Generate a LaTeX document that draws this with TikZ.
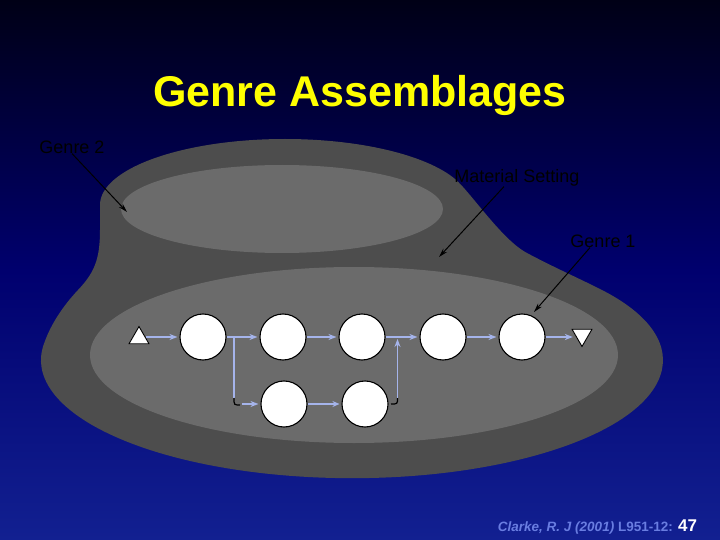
\documentclass[tikz,border=0pt]{standalone}
\usepackage{fontspec}
\setmainfont{Liberation Sans}
\usetikzlibrary{arrows.meta,shapes.geometric,calc}
\definecolor{bgtop}{RGB}{0,0,22}
\definecolor{bgmid}{RGB}{0,0,110}
\definecolor{bgbot}{RGB}{18,32,145}
\definecolor{shapedark}{RGB}{77,77,77}
\definecolor{shapelight}{RGB}{107,107,107}
\definecolor{flowblue}{RGB}{165,180,235}
\definecolor{labelink}{RGB}{0,0,0}
\definecolor{citeblue}{RGB}{105,125,225}
\definecolor{titleyellow}{RGB}{255,255,0}
\tikzset{
  circ/.style={circle, draw=black, line width=1.1pt, fill=white, minimum size=46pt, inner sep=0pt},
  tri/.style={regular polygon, regular polygon sides=3, draw=black, line width=0.9pt, fill=white, minimum size=23pt, inner sep=0pt},
  flow/.style={draw=flowblue, line width=2.2pt, -{Stealth[length=8pt,width=6pt]}, shorten >=2pt},
  thinflow/.style={draw=flowblue, line width=1.1pt},
  thinarrow/.style={draw=flowblue, line width=1.1pt, -{Stealth[length=7pt,width=6pt]}, shorten >=2pt},
  hook/.style={draw=black, line width=1.2pt},
  lab/.style={text=labelink, font=\fontsize{18}{20}\selectfont, inner sep=0pt},
  callout/.style={draw=black, line width=1pt, -{Stealth[length=9pt,width=5pt]}}
}
\begin{document}
\begin{tikzpicture}[x=1pt,y=-1pt]
\useasboundingbox (0,0) rectangle (720,540);
\shade[top color=bgtop, bottom color=bgbot, middle color=bgmid] (0,0) rectangle (720,540);

% title
\node[text=titleyellow, font=\fontsize{43}{50}\selectfont\bfseries, anchor=base, inner sep=0pt] (title) at (360,107) {Genre Assemblages};

% setting shape
\fill[shapedark] (100,205)
  arc[start angle=180, end angle=336.8, x radius=185, y radius=66]
  .. controls (470,191.5) and (502,240) .. (527,253)
  .. controls (552,266.4) and (575,276.5) .. (600,289)
  arc[start angle=322.9, end angle=547.9, x radius=311, y radius=118]
  .. controls (50,326) and (62,307) .. (78,290)
  .. controls (94,273) and (100,260) .. (100,230)
  -- cycle;
\fill[shapelight] (282,209) ellipse [x radius=161, y radius=44];
\fill[shapelight] (354,355) ellipse [x radius=264, y radius=88];

% nodes
\node[tri] (t1) at (139,338) {};
\node[tri, shape border rotate=180] (t2) at (582,335) {};
\node[circ] (c1) at (203,337) {};
\node[circ] (c2) at (283,337) {};
\node[circ] (c3) at (362,337) {};
\node[circ] (c4) at (443,337) {};
\node[circ] (c5) at (522,337) {};
\node[circ] (c6) at (284,404) {};
\node[circ] (c7) at (365,404) {};

\coordinate (j1) at (234,337);
\coordinate (j1b) at (234,398);
\coordinate (j2) at (397.5,337);
\coordinate (j2b) at (397.5,398);

% main flow
\draw[flow] (c1.west -| t1.east) -- (c1.west);
\draw[flow] (c1) -- (c2);
\draw[flow] (c2) -- (c3);
\draw[flow] (c3) -- (c4);
\draw[flow] (c4) -- (c5);
\draw[flow] (c5.east) -- (c5.east -| t2.west);

% branch
\draw[thinflow] (j1) -- (j1b);
\draw[hook] (j1b) .. controls (234,405) .. (240,405);
\draw[flow] (242,404) -- (c6.west);
\draw[thinarrow] (c6) -- (c7);
\draw[hook] (391,404) .. controls (397.5,404) .. (j2b);
\draw[flow, line width=1.7pt] (j2b) -- (j2);

% labels
\node[lab] (g2) at (72,147) {Genre 2};
\coordinate (g2tip) at (127,212);
\draw[callout] (g2.south) -- (g2tip);
\node[lab] (ms) at (517,178) {Material Setting};
\coordinate (mstip) at (439,257);
\draw[callout] ([xshift=-13pt]ms.south) -- (mstip);
\node[lab] (g1) at (603,241) {Genre 1};
\coordinate (g1tip) at (534,312);
\draw[callout] ([xshift=-13pt]g1.south) -- (g1tip);

% citation
\node[text=citeblue, font=\fontsize{13.5}{15}\selectfont\bfseries, anchor=base east, inner sep=0pt] (cite) at (673,531) {\itshape Clarke, R. J (2001)\upshape{} L951-12:};
\node[text=white, font=\fontsize{17}{19}\selectfont\bfseries, anchor=base west, inner sep=0pt] (pg) at (678,531) {47};
\end{tikzpicture}
\end{document}
